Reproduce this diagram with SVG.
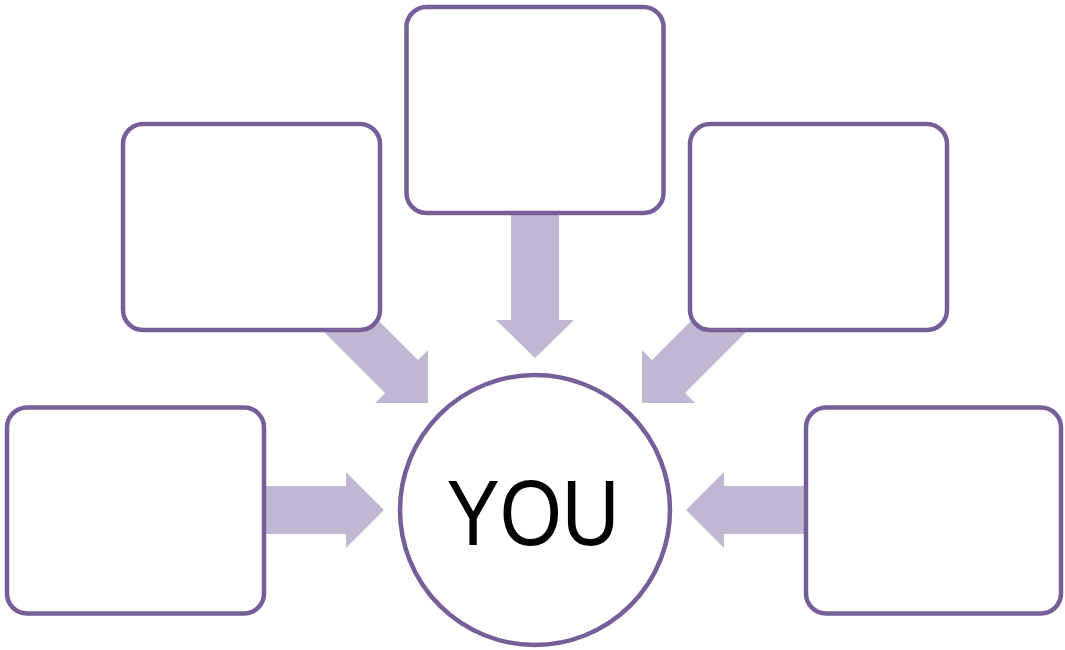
<svg xmlns="http://www.w3.org/2000/svg" width="1065" height="650" viewBox="0 0 1065 650">
<style>
.box{fill:#ffffff;stroke:#765e99;stroke-width:4.5}
.arrow{fill:#c0b8d3;stroke:none}
.lbl{font-family:"Liberation Sans",Arial,sans-serif;font-size:93px;fill:#000000}
</style>
<rect width="1065" height="650" fill="#ffffff"/>
<g id="connectors">
<polygon class="arrow" points="511,200 559,200 559,320 574,320 535,358 496,320 511,320"/>
<polygon class="arrow" points="250,486 346,486 346,472 384,510 346,548 346,534 250,534"/>
<polygon class="arrow" points="820,486 724,486 724,472 686,510 724,548 724,534 820,534"/>
<polygon class="arrow" points="349,291 418,360 428,350 428,403 375,403 385,393 316,324"/>
<polygon class="arrow" points="721,291 652,360 642,350 642,403 695,403 685,393 754,324"/>
</g>
<g id="box-top"><rect class="box" x="406.5" y="7" width="257" height="206" rx="20"/></g>
<g id="box-top-left"><rect class="box" x="123" y="124" width="257" height="206" rx="20"/></g>
<g id="box-top-right"><rect class="box" x="690" y="124" width="257" height="206" rx="20"/></g>
<g id="box-bottom-left"><rect class="box" x="7" y="407.5" width="257" height="206" rx="20"/></g>
<g id="box-bottom-right"><rect class="box" x="806" y="407.5" width="255" height="206" rx="20"/></g>
<g id="you">
<circle class="box" cx="535" cy="510" r="135"/>
<text class="lbl" x="533" y="545" text-anchor="middle" textLength="173" lengthAdjust="spacingAndGlyphs">YOU</text>
</g>
</svg>
